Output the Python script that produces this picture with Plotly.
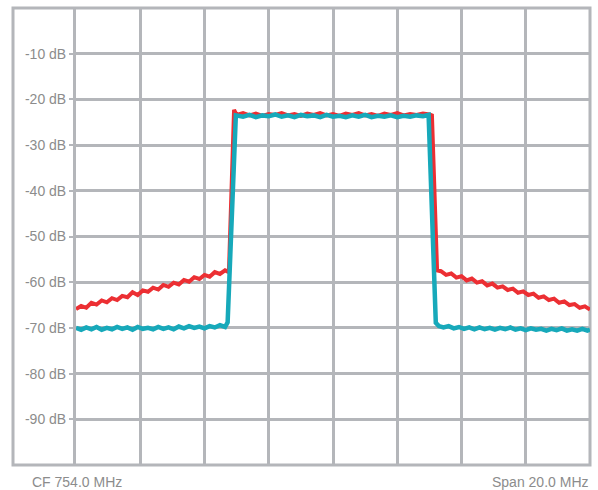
import plotly.graph_objects as go

# ---- data (MHz, dB) ----
red_freq = [
    744.0, 744.2, 744.4, 744.6, 744.8, 745.0, 745.2, 745.4, 745.6, 745.8,
    746.0, 746.2, 746.4, 746.6, 746.8, 747.0, 747.2, 747.4, 747.6, 747.8,
    748.0, 748.2, 748.4, 748.6, 748.8, 749.0, 749.2, 749.4, 749.6, 749.8,
    749.95, 750.15, 750.25,
    750.5, 750.75, 751.0, 751.25, 751.5, 751.75, 752.0, 752.25, 752.5, 752.75,
    753.0, 753.25, 753.5, 753.75, 754.0, 754.25, 754.5, 754.75, 755.0, 755.25,
    755.5, 755.75, 756.0, 756.25, 756.5, 756.75, 757.0, 757.25, 757.5, 757.75,
    757.85, 758.05,
    758.2, 758.4, 758.6, 758.8, 759.0, 759.2, 759.4, 759.6, 759.8, 760.0,
    760.2, 760.4, 760.6, 760.8, 761.0, 761.2, 761.4, 761.6, 761.8, 762.0,
    762.2, 762.4, 762.6, 762.8, 763.0, 763.2, 763.4, 763.6, 763.8, 764.0,
]
red_db = [
    -65.9, -65.2, -65.6, -64.5, -64.9, -64.0, -64.4, -63.5, -63.9, -63.0,
    -63.3, -62.2, -62.8, -61.8, -62.1, -61.2, -61.6, -60.6, -61.0, -60.1,
    -60.5, -59.5, -59.9, -58.9, -59.3, -58.4, -58.8, -57.8, -58.2, -57.4,
    -57.8, -22.3, -23.4,
    -23.0, -23.5, -23.1, -23.6, -23.2, -23.4, -23.0, -23.5, -23.2, -23.6,
    -23.1, -23.4, -23.0, -23.5, -23.2, -23.6, -23.1, -23.4, -23.0, -23.5,
    -23.2, -23.6, -23.1, -23.4, -23.0, -23.5, -23.2, -23.4, -23.1, -23.3,
    -23.5, -57.4,
    -57.6, -58.4, -58.1, -59.0, -58.7, -59.6, -59.2, -60.1, -59.8, -60.7,
    -60.3, -61.2, -60.9, -61.7, -61.4, -62.3, -62.0, -62.8, -62.5, -63.4,
    -63.1, -63.9, -63.6, -64.5, -64.2, -65.0, -64.8, -65.6, -65.3, -66.0,
]

teal_freq = [
    744.0, 744.2, 744.4, 744.6, 744.8, 745.0, 745.2, 745.4, 745.6, 745.8,
    746.0, 746.2, 746.4, 746.6, 746.8, 747.0, 747.2, 747.4, 747.6, 747.8,
    748.0, 748.2, 748.4, 748.6, 748.8, 749.0, 749.2, 749.4, 749.6, 749.8,
    749.9, 750.22,
    750.5, 750.75, 751.0, 751.25, 751.5, 751.75, 752.0, 752.25, 752.5, 752.75,
    753.0, 753.25, 753.5, 753.75, 754.0, 754.25, 754.5, 754.75, 755.0, 755.25,
    755.5, 755.75, 756.0, 756.25, 756.5, 756.75, 757.0, 757.25, 757.5, 757.72,
    758.0, 758.12,
    758.3, 758.5, 758.7, 758.9, 759.1, 759.3, 759.5, 759.7, 759.9, 760.1,
    760.3, 760.5, 760.7, 760.9, 761.1, 761.3, 761.5, 761.7, 761.9, 762.1,
    762.3, 762.5, 762.7, 762.9, 763.1, 763.3, 763.5, 763.7, 763.9, 764.0,
]
teal_db = [
    -70.0, -70.4, -69.9, -70.3, -69.8, -70.4, -70.0, -70.3, -69.8, -70.2,
    -69.9, -70.4, -69.8, -70.2, -70.0, -70.3, -69.8, -70.2, -69.9, -70.3,
    -69.7, -70.1, -69.6, -70.0, -69.7, -70.1, -69.6, -69.9, -69.4, -69.8,
    -68.8, -23.5,
    -23.8, -23.4, -23.9, -23.5, -23.7, -23.3, -23.8, -23.5, -23.9, -23.4,
    -23.7, -23.5, -23.9, -23.4, -23.8, -23.6, -23.9, -23.5, -23.8, -23.4,
    -23.9, -23.6, -23.8, -23.5, -23.9, -23.6, -23.8, -23.5, -23.7, -23.4,
    -68.9, -69.6,
    -69.9, -69.6, -70.1, -69.8, -70.2, -69.9, -70.3, -69.9, -70.3, -70.0,
    -70.4, -70.0, -70.3, -69.9, -70.4, -70.1, -70.5, -70.1, -70.4, -70.2,
    -70.6, -70.2, -70.5, -70.1, -70.6, -70.3, -70.6, -70.2, -70.6, -70.4,
]

x_ticks = [744.0, 746.5, 749.0, 751.5, 754.0, 756.5, 759.0, 761.5, 764.0]
y_ticks = [-10, -20, -30, -40, -50, -60, -70, -80, -90]
y_labels = ["-10 dB", "-20 dB", "-30 dB", "-40 dB", "-50 dB",
            "-60 dB", "-70 dB", "-80 dB", "-90 dB"]
center_label = "CF 754.0 MHz"
span_label = "Span 20.0 MHz"

GRID = "#b4b6ba"
TEXT = "#8c8c8c"
RED = "#ec2f33"
TEAL = "#17a9ba"

fig = go.Figure()
fig.add_trace(go.Scatter(x=red_freq, y=red_db, mode="lines",
                         line=dict(color=RED, width=4), showlegend=False))
fig.add_trace(go.Scatter(x=teal_freq, y=teal_db, mode="lines",
                         line=dict(color=TEAL, width=4.5), showlegend=False))

W, H = 598, 490
ml, mr, mt, mb = 76, 8, 8, 25
pw, ph = W - ml - mr, H - mt - mb

fig.update_layout(
    width=W, height=H,
    margin=dict(l=ml, r=mr, t=mt, b=mb, pad=0),
    paper_bgcolor="white", plot_bgcolor="white",
    font=dict(family="Liberation Sans, Arial, sans-serif", size=14, color=TEXT),
    xaxis=dict(range=[744, 764], tickvals=x_ticks, showticklabels=False,
               showgrid=True, gridcolor=GRID, gridwidth=3, zeroline=False,
               ticks="", showline=False, fixedrange=True),
    yaxis=dict(range=[-100, 0], tickmode="array", tickvals=y_ticks, ticktext=y_labels,
               showgrid=True, gridcolor=GRID, gridwidth=3, zeroline=False,
               ticks="outside", ticklen=4, tickwidth=2, tickcolor=GRID,
               showline=True, linecolor=GRID, linewidth=3,
               tickfont=dict(size=14, color=TEXT), fixedrange=True),
    shapes=[dict(type="rect", xref="paper", yref="paper",
                 x0=(13 - ml) / pw, x1=1.0, y0=0.0, y1=1.0,
                 line=dict(color=GRID, width=3), layer="below")],
    annotations=[
        dict(text=center_label, xref="paper", yref="paper",
             x=(30 - ml) / pw, y=(465 - 482) / ph, xanchor="left", yanchor="middle",
             showarrow=False, font=dict(size=14, color=TEXT)),
        dict(text=span_label, xref="paper", yref="paper",
             x=(591 - ml) / pw, y=(465 - 482) / ph, xanchor="right", yanchor="middle",
             showarrow=False, font=dict(size=14, color=TEXT)),
    ],
)

fig.write_html("out.html", config={"displayModeBar": False},
               post_script="document.body.style.margin='0';document.body.style.padding='0';")
